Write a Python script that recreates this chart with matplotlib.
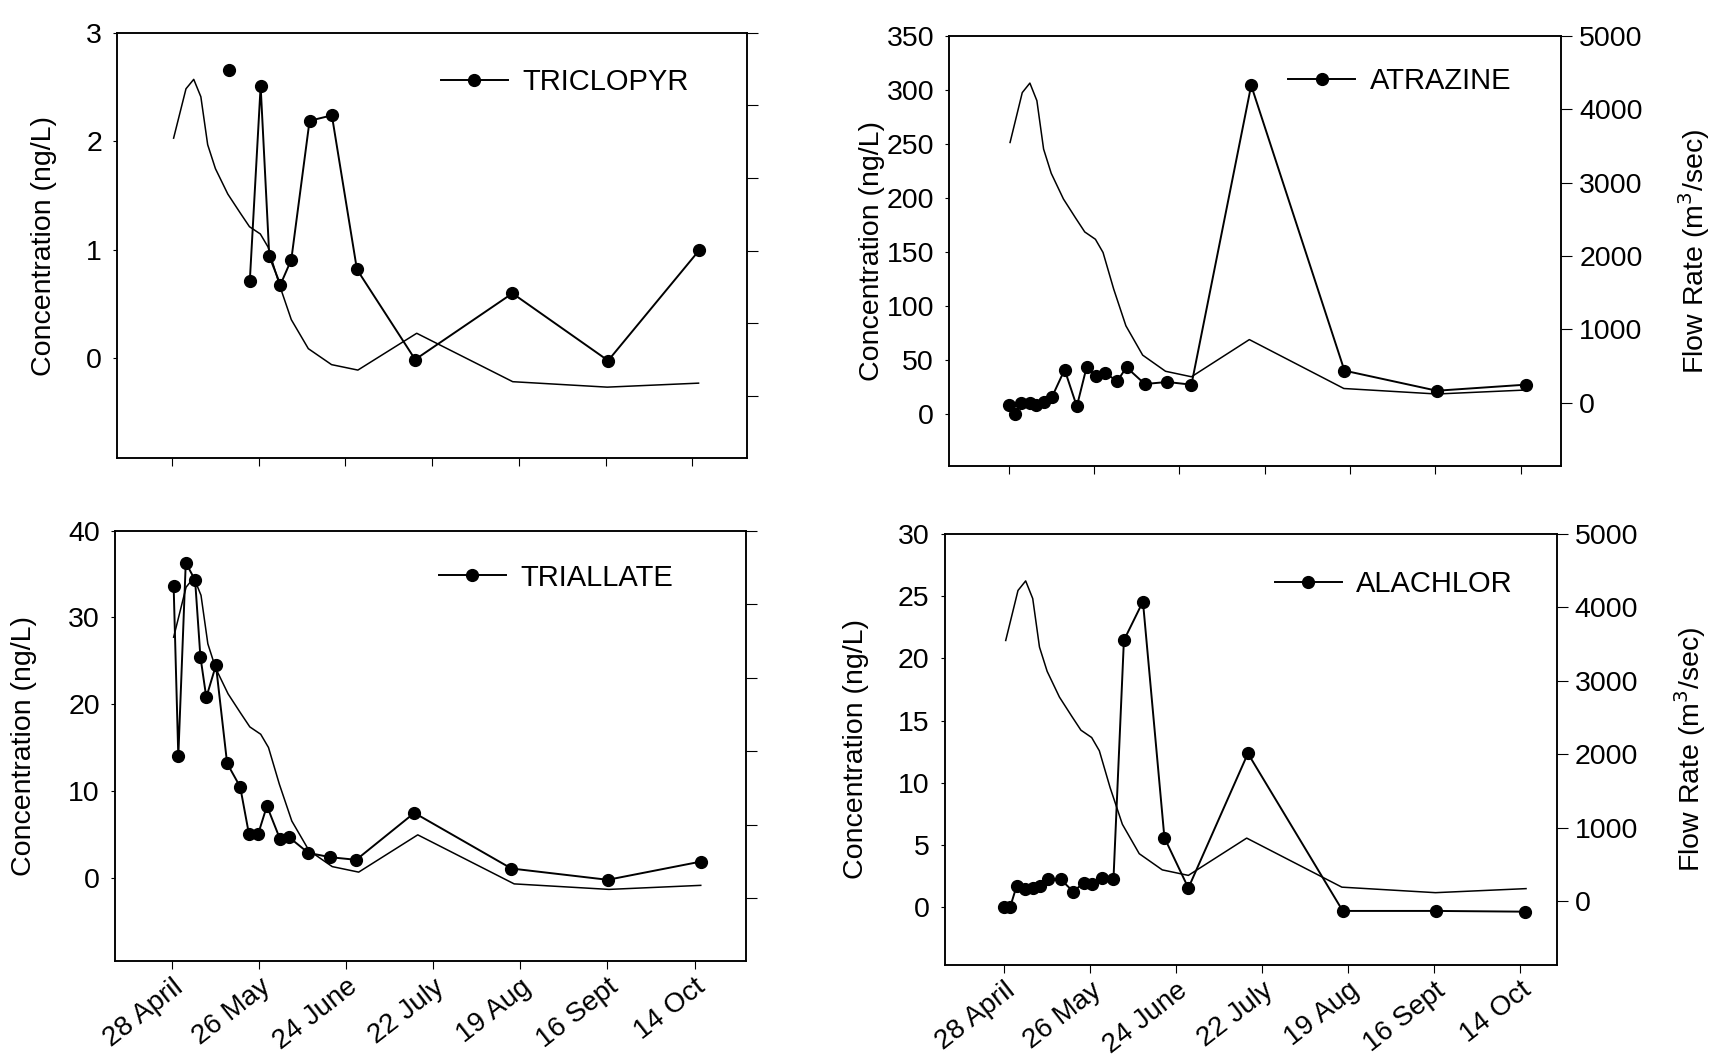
import numpy as np
import matplotlib.pyplot as plt

plt.rcParams['font.family'] = ['Liberation Sans', 'DejaVu Sans']

# x axis = days after 28 April
tick_days = [0, 28, 56, 84, 112, 140, 168]
tick_labels = ['28 April', '26 May', '24 June', '22 July', '19 Aug', '16 Sept', '14 Oct']

# river flow (m3/sec), same curve in every panel
flow_days = [0.5, 4.5, 7, 9.3, 11.5, 14, 18, 22, 25, 28.5, 31, 34.5, 38.5, 44, 51.5, 60, 79, 110, 140.5, 170]
flow_rate = [3550, 4230, 4360, 4120, 3460, 3130, 2780, 2520, 2330, 2230, 2050, 1550, 1050, 650, 430, 355, 862, 195, 120, 175]

triclopyr_days = [18.5, 25.1, 28.6, 31.4, 35.0, 38.5, 44.4, 51.6, 59.7, 78.5, 109.9, 140.8, 170.3]
triclopyr_conc = [2.66, 0.71, 2.51, 0.94, 0.68, 0.91, 2.19, 2.24, 0.82, -0.01, 0.60, -0.02, 1.0]

atrazine_days = [0, 2.0, 4.2, 6.9, 9.1, 11.5, 14.2, 18.4, 22.4, 25.6, 28.7, 31.8, 35.6, 38.7, 44.7, 52.0, 60.0, 79.6, 110.2, 140.5, 169.6]
atrazine_conc = [8.7, 0, 10.2, 10.2, 8.0, 11.1, 15.5, 41.1, 7.1, 43.3, 35.5, 38.0, 30.3, 43.3, 27.8, 29.7, 27.2, 304.4, 40.2, 21.6, 27.2]

triallate_days = [0.5, 2.0, 4.4, 7.4, 9.1, 11.0, 14.1, 17.7, 21.9, 24.7, 27.7, 30.5, 34.7, 37.6, 43.8, 50.9, 59.2, 77.9, 109.1, 140.1, 170.1]
triallate_conc = [33.6, 14.0, 36.3, 34.3, 25.5, 20.8, 24.5, 13.2, 10.5, 5.1, 5.1, 8.3, 4.5, 4.7, 2.9, 2.4, 2.1, 7.5, 1.1, -0.2, 1.9]

alachlor_days = [0, 1.9, 4.1, 6.9, 9.4, 11.6, 14.4, 18.4, 22.5, 25.9, 28.5, 31.9, 35.6, 39.0, 45.2, 52.2, 60.0, 79.4, 110.3, 140.7, 169.8]
alachlor_conc = [0, 0, 1.75, 1.47, 1.56, 1.70, 2.26, 2.26, 1.27, 1.98, 1.90, 2.40, 2.26, 21.45, 24.56, 5.6, 1.56, 12.37, -0.28, -0.28, -0.34]

flow_ticks = [0, 1000, 2000, 3000, 4000, 5000]

panels = [
    dict(name='TRICLOPYR', days=triclopyr_days, conc=triclopyr_conc, first_alone=True,
         rect=[0.0682, 0.5652, 0.3661, 0.4036], ylim=(-0.92, 3), yticks=[0, 1, 2, 3],
         xlim=(-17.7, 185.5), leg=(0.514, 0.884), ylab_x=-0.096, bottom=False, right=False),
    dict(name='ATRAZINE', days=atrazine_days, conc=atrazine_conc, first_alone=False,
         rect=[0.5523, 0.558, 0.3559, 0.4077], ylim=(-48, 350), yticks=list(range(0, 351, 50)),
         xlim=(-19.4, 181.3), leg=(0.554, 0.895), ylab_x=-0.106, bottom=False, right=True),
    dict(name='TRIALLATE', days=triallate_days, conc=triallate_conc, first_alone=False,
         rect=[0.067, 0.0878, 0.3667, 0.4088], ylim=(-9.6, 40), yticks=[0, 10, 20, 30, 40],
         xlim=(-18.3, 184.4), leg=(0.513, 0.891), ylab_x=-0.124, bottom=True, right=False),
    dict(name='ALACHLOR', days=alachlor_days, conc=alachlor_conc, first_alone=False,
         rect=[0.5497, 0.0847, 0.3559, 0.4088], ylim=(-4.6, 30), yticks=[0, 5, 10, 15, 20, 25, 30],
         xlim=(-19.3, 180), leg=(0.539, 0.883), ylab_x=-0.124, bottom=True, right=True),
]

fig = plt.figure(figsize=(17.19, 10.54), dpi=100)

for p in panels:
    ax = fig.add_axes(p['rect'])
    ax2 = ax.twinx()

    # flow curve on the right axis
    ax2.plot(flow_days, flow_rate, color='black', lw=1.1)
    ax2.set_ylim(-860, 5000)
    ax2.set_yticks(flow_ticks)
    ax2.tick_params(axis='y', direction='out', length=8, labelsize=20.5, pad=5)
    if p['right']:
        ax2.set_ylabel('Flow Rate (m$^3$/sec)', fontsize=20.5, labelpad=24)
    else:
        ax2.set_yticklabels([])

    # concentration series
    d, c = p['days'], p['conc']
    if p['first_alone']:
        ax.plot(d[:1], c[:1], 'o', color='black', ms=8.5)
        line, = ax.plot(d[1:], c[1:], '-o', color='black', lw=1.4, ms=8.5, label=p['name'])
    else:
        line, = ax.plot(d, c, '-o', color='black', lw=1.4, ms=8.5, label=p['name'])
    ax.set_zorder(ax2.get_zorder() + 1)
    ax.patch.set_visible(False)

    ax.set_xlim(p['xlim'])
    ax.set_ylim(p['ylim'])
    ax.set_yticks(p['yticks'])
    ax.set_xticks(tick_days)
    ax.tick_params(axis='y', direction='out', length=3, labelsize=20.5, pad=8)
    ax.tick_params(axis='x', direction='out', length=6, labelsize=20, pad=3)
    if p['bottom']:
        ax.set_xticklabels(tick_labels, rotation=38, ha='right', rotation_mode='anchor')
    else:
        ax.set_xticklabels([])
    ax.set_ylabel('Concentration (ng/L)', fontsize=20.5)
    ax.yaxis.set_label_coords(p['ylab_x'], 0.5)

    ax.legend(handles=[line], loc='center left', bbox_to_anchor=p['leg'], frameon=False,
              fontsize=21, handlelength=2.3, handletextpad=0.5, borderpad=0, borderaxespad=0)

    for a in (ax, ax2):
        for s in a.spines.values():
            s.set_linewidth(1.1)

fig.savefig('out.png', dpi=100)
